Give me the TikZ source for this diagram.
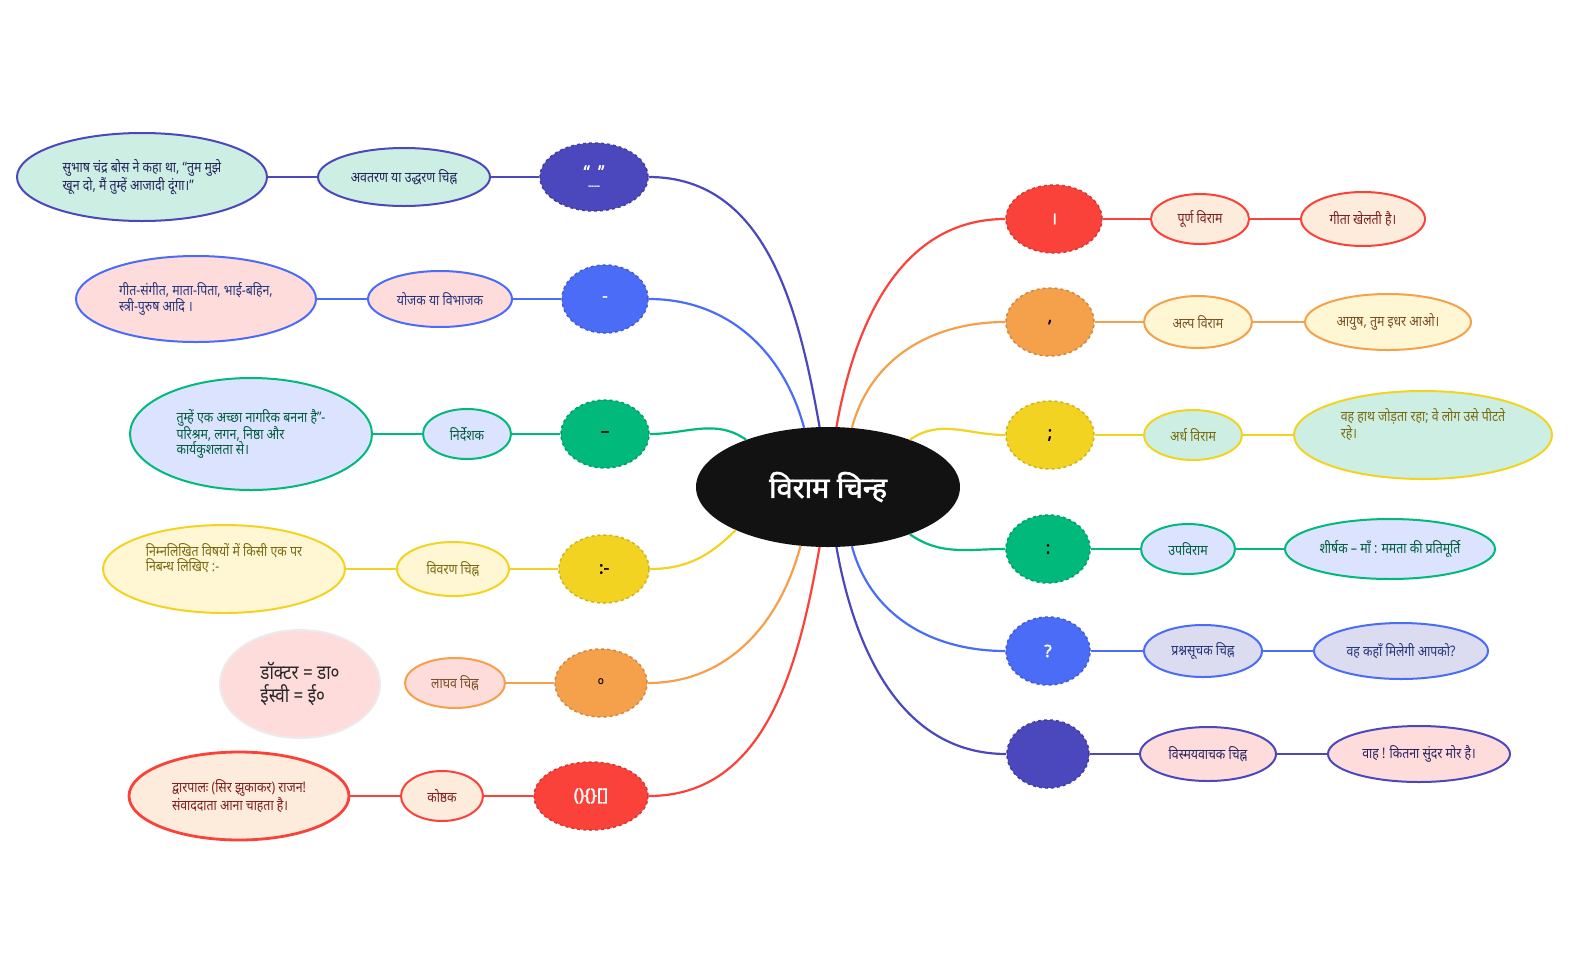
\documentclass[tikz,border=0pt]{standalone}
\usepackage{fontspec}
\newfontfamily\hin[Script=Devanagari,FakeStretch=0.85]{Noto Sans}
\newfontfamily\hinb[Script=Devanagari,FakeBold=2]{Noto Sans}
\usetikzlibrary{shapes.geometric}
\definecolor{cI}{HTML}{4B48BE}\definecolor{cB}{HTML}{4A6CF7}\definecolor{cG}{HTML}{00B97A}
\definecolor{cY}{HTML}{F2D321}\definecolor{cO}{HTML}{F5A04A}\definecolor{cR}{HTML}{FA423A}
\definecolor{fM}{HTML}{CDEFE3}\definecolor{fP}{HTML}{FFDCDC}\definecolor{fL}{HTML}{DCE3FF}
\definecolor{fY}{HTML}{FFF7D4}\definecolor{fC}{HTML}{FDEBDC}\definecolor{fV}{HTML}{DCDCF0}
\tikzset{
 sym/.style={ellipse,fill=#1,draw=#1!85!black,dashed,line width=1.5pt,inner sep=0pt,font=\hinb\fontsize{17}{18}\selectfont},
 lab/.style={ellipse,draw=#1,line width=2pt,inner sep=1pt,font=\hin\fontsize{14.5}{15}\selectfont,text=#1!50!black,align=left},
 br/.style={draw=#1,line width=2.2pt}
}
\begin{document}
\begin{tikzpicture}[x=1pt,y=-1pt]
\useasboundingbox (0,0) rectangle (1575,975);
\node[ellipse,fill=black!93,minimum width=264,minimum height=120,text=white,font=\hinb\fontsize{29}{30}\selectfont] (c) at (828,487) {विराम चिन्ह};
% left
\node[sym=cI,minimum width=108,minimum height=68,text=white,align=center] (s1) at (594,177) {“\,\,\,”\\[-7pt]{\fontsize{9}{9}\selectfont ----}};
\node[lab=cI,fill=fM,minimum width=172,minimum height=58] (l1) at (404,177) {अवतरण या उद्धरण चिह्न};
\node[lab=cI,fill=fM,minimum width=250,minimum height=88] (e1) at (142,177) {सुभाष चंद्र बोस ने कहा था, “तुम मुझे\\खून दो, मैं तुम्हें आजादी दूंगा।”};
\node[sym=cB,minimum width=86,minimum height=68,text=white] (s2) at (605,299) {-};
\node[lab=cB,fill=fP,minimum width=144,minimum height=56] (l2) at (440,299) {योजक या विभाजक};
\node[lab=cB,fill=fP,minimum width=240,minimum height=86] (e2) at (196,299) {गीत-संगीत, माता-पिता, भाई-बहिन,\\स्त्री-पुरुष आदि ।};
\node[sym=cG,minimum width=88,minimum height=68,text=black] (s3) at (605,434) {–};
\node[lab=cG,fill=fL,minimum width=88,minimum height=50] (l3) at (467,434) {निर्देशक};
\node[lab=cG,fill=fL,minimum width=242,minimum height=112] (e3) at (251,434) {तुम्हें एक अच्छा नागरिक बनना है”-\\परिश्रम, लगन, निष्ठा और\\कार्यकुशलता से।};
\node[sym=cY,minimum width=90,minimum height=68,text=black] (s4) at (604,569) {:-};
\node[lab=cY,fill=fY,minimum width=112,minimum height=54] (l4) at (453,569) {विवरण चिह्न};
\node[lab=cY,fill=fY,minimum width=242,minimum height=88] (e4) at (224,569) {निम्नलिखित विषयों में किसी एक पर\\निबन्ध लिखिए :-\\[8pt]};
\node[sym=cO,minimum width=92,minimum height=68,text=black] (s5) at (601,683) {\hin\fontsize{15}{15}\selectfont ०};
\node[lab=cO,fill=fP,minimum width=100,minimum height=50] (l5) at (455,683) {लाघव चिह्न};
\node[ellipse,draw=black!8,line width=2pt,fill=fP,minimum width=160,minimum height=108,font=\hin\fontsize{20}{23}\selectfont,text=black!85,align=left] (e5) at (300,684) {डॉक्टर = डा०\\ईस्वी = ई०};
\node[sym=cR,minimum width=114,minimum height=68,text=white] (s6) at (591,796) {()\{\}[]};
\node[lab=cR,fill=fC,minimum width=82,minimum height=50] (l6) at (442,796) {कोष्ठक};
\node[lab=cR,fill=fC,line width=2.8pt,minimum width=220,minimum height=88] (e6) at (239,796) {द्वारपालः (सिर झुकाकर) राजन!\\संवाददाता आना चाहता है।};
% right
\node[sym=cR,minimum width=96,minimum height=68,text=white] (r1) at (1054,219) {।};
\node[lab=cR,fill=fC,minimum width=98,minimum height=50] (m1) at (1200,219) {पूर्ण विराम};
\node[lab=cR,fill=fC,minimum width=124,minimum height=54] (f1) at (1363,219) {गीता खेलती है।};
\node[sym=cO,minimum width=88,minimum height=68,text=black] (r2) at (1050,322) {,};
\node[lab=cO,fill=fY,minimum width=108,minimum height=52] (m2) at (1198,322) {अल्प विराम};
\node[lab=cO,fill=fY,minimum width=166,minimum height=56] (f2) at (1388,322) {आयुष, तुम इधर आओ।};
\node[sym=cY,minimum width=88,minimum height=68,text=black] (r3) at (1050,435) {;};
\node[lab=cY,fill=fM,minimum width=98,minimum height=50] (m3) at (1193,435) {अर्ध विराम};
\node[lab=cY,fill=fM,minimum width=258,minimum height=88] (f3) at (1423,435) {वह हाथ जोड़ता रहा; वे लोग उसे पीटते\\रहे।\\[8pt]};
\node[sym=cG,minimum width=84,minimum height=68,text=black] (r4) at (1048,549) {:};
\node[lab=cG,fill=fL,minimum width=94,minimum height=50] (m4) at (1188,549) {उपविराम};
\node[lab=cG,fill=fL,minimum width=210,minimum height=60] (f4) at (1390,549) {शीर्षक – माँ : ममता की प्रतिमूर्ति};
\node[sym=cB,minimum width=84,minimum height=68,text=white] (r5) at (1048,651) {?};
\node[lab=cB,fill=fV,minimum width=118,minimum height=52] (m5) at (1203,651) {प्रश्नसूचक चिह्न};
\node[lab=cB,fill=fV,minimum width=174,minimum height=56] (f5) at (1401,651) {वह कहाँ मिलेगी आपको?};
\node[sym=cI,minimum width=82,minimum height=68,text=white] (r6) at (1048,754) {};
\node[lab=cI,fill=fP,minimum width=136,minimum height=54] (m6) at (1208,754) {विस्मयवाचक चिह्न};
\node[lab=cI,fill=fP,minimum width=182,minimum height=56] (f6) at (1419,754) {वाह ! कितना सुंदर मोर है।};
% connectors
\foreach \a/\b/\col in {s1/l1/cI,l1/e1/cI,s2/l2/cB,l2/e2/cB,s3/l3/cG,l3/e3/cG,s4/l4/cY,l4/e4/cY,s5/l5/cO,s6/l6/cR,l6/e6/cR,
 r1/m1/cR,m1/f1/cR,r2/m2/cO,m2/f2/cO,r3/m3/cY,m3/f3/cY,r4/m4/cG,m4/f4/cG,r5/m5/cB,m5/f5/cB,r6/m6/cI,m6/f6/cI}
 \draw[br=\col,line width=1.8pt] (\a) -- (\b);
\draw[br=cI] (c.98) to[out=100,in=0] (s1.east);
\draw[br=cB] (c.112) to[out=105,in=0] (s2.east);
\draw[br=cG] (c.150) to[out=145,in=0] (s3.east);
\draw[br=cY] (c.205) to[out=225,in=0] (s4.east);
\draw[br=cO] (c.245) to[out=255,in=0] (s5.east);
\draw[br=cR] (c.262) to[out=260,in=0] (s6.east);
\draw[br=cR] (c.82) to[out=80,in=180] (r1.west);
\draw[br=cO] (c.68) to[out=75,in=180] (r2.west);
\draw[br=cY] (c.30) to[out=35,in=180] (r3.west);
\draw[br=cG] (c.-30) to[out=-35,in=180] (r4.west);
\draw[br=cB] (c.-68) to[out=-75,in=180] (r5.west);
\draw[br=cI] (c.-82) to[out=-80,in=180] (r6.west);
\end{tikzpicture}
\end{document}
